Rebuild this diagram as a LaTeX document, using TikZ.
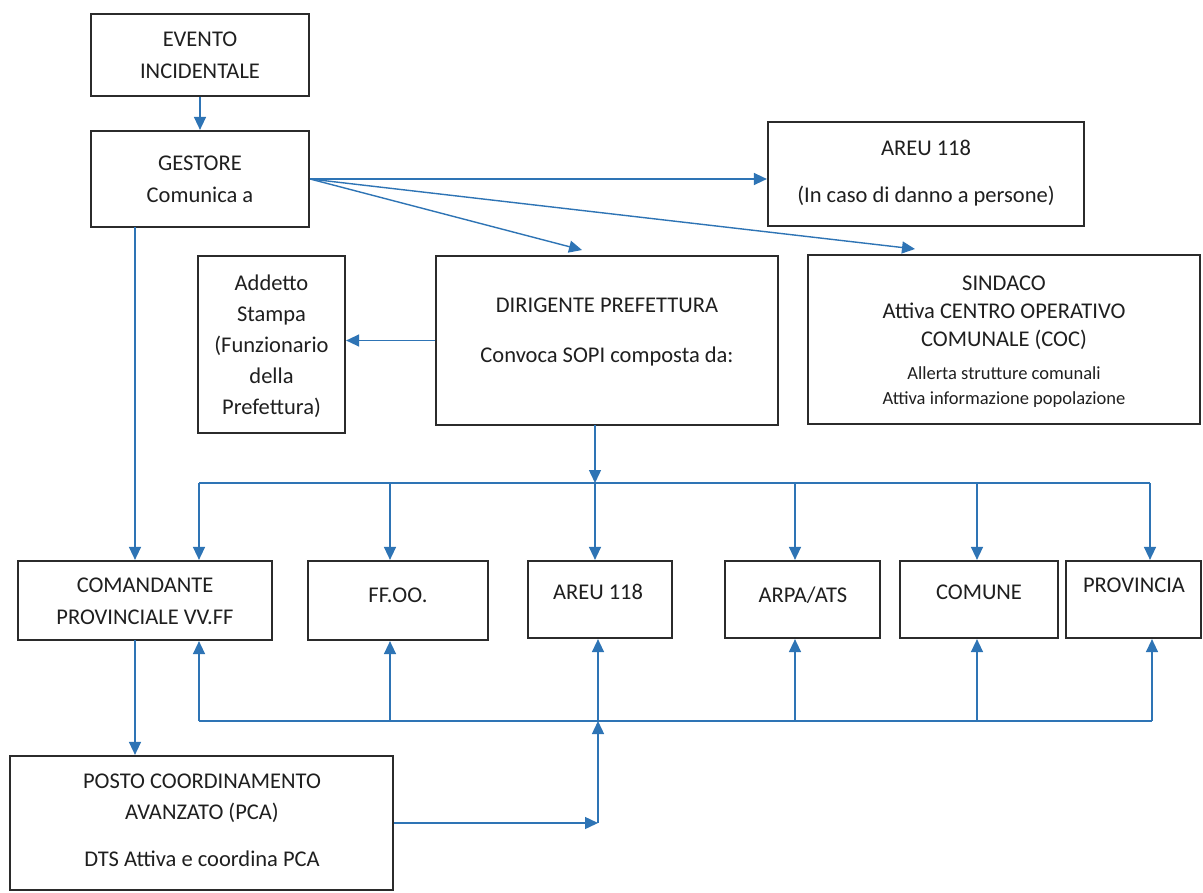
\documentclass[tikz,border=0pt]{standalone}
\usepackage{fontspec}
\setmainfont{Carlito}
\usetikzlibrary{arrows.meta}
\definecolor{arrblue}{HTML}{2E74B5}
\definecolor{boxgray}{HTML}{2B2B2B}
\begin{document}
\begin{tikzpicture}[x=1bp,y=-1bp,
  box/.style={draw=boxgray, line width=2.2bp, rectangle, inner sep=0pt},
  txt/.style={align=center, inner sep=0pt, text=black!88, font=\fontsize{22.5bp}{32bp}\selectfont},
  conn/.style={draw=arrblue, line width=1.4bp},
  arr/.style={conn, -{Triangle[length=13bp,width=12bp]}}]
\useasboundingbox[fill=white] (0,0) rectangle (1203,893);

% boxes
\node[box, minimum width=218bp, minimum height=82bp]  (ev)   at (200,55) {};
\node[box, minimum width=218bp, minimum height=96bp]  (ge)   at (200,179) {};
\node[box, minimum width=316bp, minimum height=104bp] (ar1)  at (926,174) {};
\node[box, minimum width=147bp, minimum height=177bp] (add)  at (271.5,344.5) {};
\node[box, minimum width=342bp, minimum height=169bp] (dir)  at (607,340.5) {};
\node[box, minimum width=392bp, minimum height=169bp] (sin)  at (1004,339.5) {};
\node[box, minimum width=254bp, minimum height=79bp]  (com)  at (145,600.5) {};
\node[box, minimum width=180bp, minimum height=79bp]  (ff)   at (398,600.5) {};
\node[box, minimum width=144bp, minimum height=77bp]  (ar2)  at (600,599.5) {};
\node[box, minimum width=155bp, minimum height=77bp]  (arpa) at (802.5,599.5) {};
\node[box, minimum width=158bp, minimum height=77bp]  (comu) at (979,599.5) {};
\node[box, minimum width=135bp, minimum height=77bp]  (prov) at (1133.5,599.5) {};
\node[box, minimum width=383bp, minimum height=134bp] (posto) at (201.5,823) {};

% texts
\node[txt] (ev-t) at (200,55) {EVENTO\\INCIDENTALE};
\node[txt] (ge-t) at (200,179) {GESTORE\\Comunica a};
\node[txt] (ar1-t) at (926,173) {AREU 118\\[15bp](In caso di danno a persone)};
\node[txt, font=\fontsize{22.5bp}{31bp}\selectfont] (add-t) at (271.5,346) {Addetto\\Stampa\\(Funzionario\\della\\Prefettura)};
\node[txt] (dir-t) at (607,332) {DIRIGENTE PREFETTURA\\[18bp]Convoca SOPI composta da:};
\node[txt, font=\fontsize{22.5bp}{28bp}\selectfont] (sin-t1) at (1004,313) {SINDACO\\Attiva CENTRO OPERATIVO\\COMUNALE (COC)};
\node[txt, font=\fontsize{18.5bp}{25bp}\selectfont] (sin-t2) at (1004,387) {Allerta strutture comunali\\Attiva informazione popolazione};
\node[txt] (com-t) at (145,601) {COMANDANTE\\PROVINCIALE VV.FF};
\node[txt] (ff-t) at (398,595) {FF.OO.};
\node[txt] (ar2-t) at (598,592) {AREU 118};
\node[txt] (arpa-t) at (803,595) {ARPA/ATS};
\node[txt] (comu-t) at (979,592) {COMUNE};
\node[txt] (prov-t) at (1134,585) {PROVINCIA};
\node[txt, font=\fontsize{22.5bp}{31bp}\selectfont] (posto-t) at (202,820) {POSTO COORDINAMENTO\\AVANZATO (PCA)\\[16bp]DTS Attiva e coordina PCA};

% coordinates
\coordinate (dtip) at (582,250);
\coordinate (stip) at (915,249);
\coordinate (dout) at (595,425);
\coordinate (d1) at (199,483);
\coordinate (d2) at (390,483);
\coordinate (d3) at (595,483);
\coordinate (d4) at (795,483);
\coordinate (d5) at (977,483);
\coordinate (d6) at (1150,483);
\coordinate (u1) at (199,721);
\coordinate (u2) at (390,721);
\coordinate (u3) at (598,721);
\coordinate (u4) at (795,721);
\coordinate (u5) at (977,721);
\coordinate (u6) at (1152,721);
\coordinate (pj) at (598,823);
\coordinate (gout) at (135,227);
\coordinate (cout) at (135,640);

% connectors
\draw[arr] (ev.south) -- (ge.north);
\draw[arr] (ge.east) -- (ge.east -| ar1.west);
\draw[arr] (ge.east) -- (dtip);
\draw[arr] (ge.east) -- (stip);
\draw[arr] (dir.west) -- (dir.west -| add.east);
\draw[arr] (gout) -- (gout |- com.north);
\draw[arr] (dout) -- (d3);
\draw[conn] (d1) -- (d6);
\draw[arr] (d1) -- (d1 |- com.north);
\draw[arr] (d2) -- (d2 |- ff.north);
\draw[arr] (d3) -- (d3 |- ar2.north);
\draw[arr] (d4) -- (d4 |- arpa.north);
\draw[arr] (d5) -- (d5 |- comu.north);
\draw[arr] (d6) -- (d6 |- prov.north);
\draw[conn] (u1) -- (u6);
\draw[arr] (u1) -- (u1 |- com.south);
\draw[arr] (u2) -- (u2 |- ff.south);
\draw[arr] (u3) -- (u3 |- ar2.south);
\draw[arr] (u4) -- (u4 |- arpa.south);
\draw[arr] (u5) -- (u5 |- comu.south);
\draw[arr] (u6) -- (u6 |- prov.south);
\draw[arr] (cout) -- (cout |- posto.north);
\draw[arr] (posto.east) -- (pj);
\draw[arr] (pj) -- (u3);
\end{tikzpicture}
\end{document}
